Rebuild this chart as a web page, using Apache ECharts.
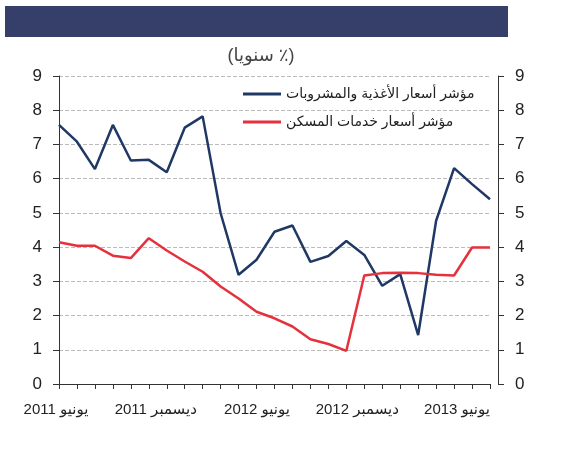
<!DOCTYPE html>
<html>
<head>
<meta charset="UTF-8">
<title>chart</title>
<script src="https://cdn.jsdelivr.net/npm/echarts@6/dist/echarts.min.js"></script>
<style>
  html, body { margin: 0; padding: 0; background: #fff; }
  #main { width: 562px; height: 450px; }
</style>
</head>
<body>
<div id="main"></div>
<script>
// months, Jun 2011 .. Jun 2013
var months = ['يونيو 2011', 'يوليو 2011', 'أغسطس 2011', 'سبتمبر 2011', 'أكتوبر 2011', 'نوفمبر 2011',
    'ديسمبر 2011', 'يناير 2012', 'فبراير 2012', 'مارس 2012', 'أبريل 2012', 'مايو 2012',
    'يونيو 2012', 'يوليو 2012', 'أغسطس 2012', 'سبتمبر 2012', 'أكتوبر 2012', 'نوفمبر 2012',
    'ديسمبر 2012', 'يناير 2013', 'فبراير 2013', 'مارس 2013', 'أبريل 2013', 'مايو 2013',
    'يونيو 2013'];

var foodName = 'مؤشر أسعار الأغذية والمشروبات';
var housingName = 'مؤشر أسعار خدمات المسكن';

var food = [7.57, 7.08, 6.28, 7.57, 6.53, 6.55, 6.19, 7.49, 7.82, 4.99, 3.19, 3.63, 4.45,
    4.63, 3.57, 3.74, 4.18, 3.77, 2.87, 3.21, 1.43, 4.77, 6.31, 5.84, 5.40];
var housing = [4.14, 4.04, 4.04, 3.75, 3.68, 4.26, 3.90, 3.58, 3.28, 2.85, 2.50, 2.11, 1.92,
    1.68, 1.31, 1.17, 0.97, 3.17, 3.24, 3.25, 3.24, 3.19, 3.17, 3.99, 3.99];

var yTicks = [0, 1, 2, 3, 4, 5, 6, 7, 8, 9];

var fontFam = 'Arial, "Liberation Sans", "DejaVu Sans", sans-serif';

var chart = echarts.init(document.getElementById('main'));

// labels in the picture sit a little left of their ticks, more so to the right
var labelRich = {
    s0: {padding: [0, 6, 0, 0], fontSize: 15, color: '#222', fontFamily: fontFam},
    s1: {padding: [0, 22, 0, 0], fontSize: 15, color: '#222', fontFamily: fontFam},
    s2: {padding: [0, 35, 0, 0], fontSize: 15, color: '#222', fontFamily: fontFam},
    s3: {padding: [0, 50, 0, 0], fontSize: 15, color: '#222', fontFamily: fontFam},
    s4: {padding: [0, 66, 0, 0], fontSize: 15, color: '#222', fontFamily: fontFam}
};

var yAxisBase = {
    type: 'value',
    min: yTicks[0],
    max: yTicks[yTicks.length - 1],
    interval: 1,
    axisLine: {show: true, lineStyle: {color: '#333', width: 1}},
    axisTick: {show: true, length: 6, lineStyle: {color: '#333'}},
    axisLabel: {fontSize: 17, color: '#222', fontFamily: fontFam, margin: 17}
};

chart.setOption({
    backgroundColor: '#fff',
    animation: false,
    title: {
        text: '(سنويا ٪)',
        left: 256,
        textAlign: 'center',
        top: 42,
        textStyle: {fontSize: 18, fontWeight: 'normal', color: '#444', fontFamily: fontFam}
    },
    graphic: [{
        type: 'rect',
        shape: {x: 5, y: 6, width: 503, height: 31},
        style: {fill: '#353f6a'}
    }],
    legend: {
        orient: 'vertical',
        left: 243,
        top: 86,
        padding: 0,
        itemWidth: 38,
        itemHeight: 3,
        itemGap: 12,
        icon: 'rect',
        textStyle: {fontSize: 14, color: '#222', fontFamily: fontFam, lineHeight: 16},
        data: [foodName, housingName]
    },
    grid: {left: 59, right: 72, top: 76, bottom: 66},
    xAxis: {
        type: 'category',
        data: months,
        boundaryGap: false,
        axisLine: {lineStyle: {color: '#333'}},
        axisTick: {show: true, interval: 0, length: 5, lineStyle: {color: '#333'}},
        axisLabel: {
            interval: 5,
            margin: 18,
            formatter: function (value, index) {
                return '{s' + Math.round(index / 6) + '|' + value + '}';
            },
            rich: labelRich
        }
    },
    yAxis: [
        Object.assign({}, yAxisBase, {
            position: 'left',
            splitLine: {show: true, lineStyle: {color: '#bbb', type: 'dashed'}}
        }),
        Object.assign({}, yAxisBase, {
            position: 'right',
            offset: 8,
            splitLine: {show: false}
        })
    ],
    series: [
        {
            name: foodName,
            type: 'line',
            data: food,
            symbol: 'none',
            lineStyle: {color: '#1f3864', width: 2.5},
            itemStyle: {color: '#1f3864'}
        },
        {
            name: housingName,
            type: 'line',
            data: housing,
            symbol: 'none',
            lineStyle: {color: '#e4313c', width: 2.5},
            itemStyle: {color: '#e4313c'}
        }
    ]
});
</script>
</body>
</html>
